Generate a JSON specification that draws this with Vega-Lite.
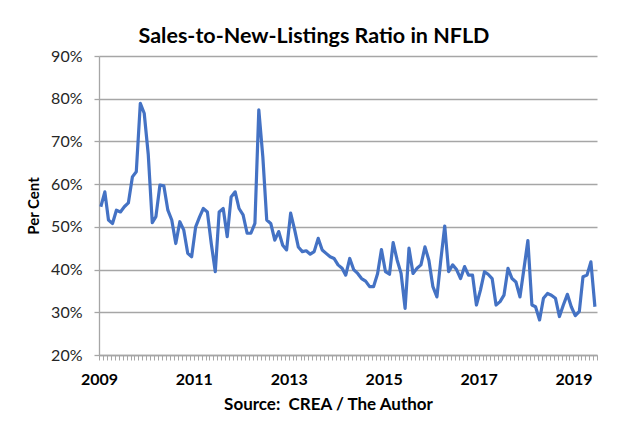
{
  "$schema": "https://vega.github.io/schema/vega-lite/v6.json",
  "autosize": "none",
  "width": 498,
  "height": 299,
  "padding": {"left": 99, "top": 56, "right": 21, "bottom": 69},
  "background": "white",
  "title": {
    "text": "Sales-to-New-Listings Ratio in NFLD",
    "font": "Lato",
    "fontSize": 21.5,
    "fontWeight": "bold",
    "color": "#000000",
    "anchor": "middle",
    "dx": -34,
    "dy": 9,
    "offset": 10
  },
  "config": {
    "view": {"stroke": null},
    "font": "Lato"
  },
  "data": {
    "values": [
      {"date": "2009-01-15", "ratio": 54.7}, {"date": "2009-02-15", "ratio": 58.2}, {"date": "2009-03-15", "ratio": 51.6}, {"date": "2009-04-15", "ratio": 50.8},
      {"date": "2009-05-15", "ratio": 53.9}, {"date": "2009-06-15", "ratio": 53.5}, {"date": "2009-07-15", "ratio": 54.7}, {"date": "2009-08-15", "ratio": 55.6},
      {"date": "2009-09-15", "ratio": 61.7}, {"date": "2009-10-15", "ratio": 62.9}, {"date": "2009-11-15", "ratio": 78.9}, {"date": "2009-12-15", "ratio": 76.6},
      {"date": "2010-01-15", "ratio": 67.0}, {"date": "2010-02-15", "ratio": 51.0}, {"date": "2010-03-15", "ratio": 52.4}, {"date": "2010-04-15", "ratio": 59.8},
      {"date": "2010-05-15", "ratio": 59.6}, {"date": "2010-06-15", "ratio": 53.9}, {"date": "2010-07-15", "ratio": 51.6}, {"date": "2010-08-15", "ratio": 46.1},
      {"date": "2010-09-15", "ratio": 51.2}, {"date": "2010-10-15", "ratio": 49.3}, {"date": "2010-11-15", "ratio": 43.8}, {"date": "2010-12-15", "ratio": 43.0},
      {"date": "2011-01-15", "ratio": 50.0}, {"date": "2011-02-15", "ratio": 52.4}, {"date": "2011-03-15", "ratio": 54.3}, {"date": "2011-04-15", "ratio": 53.5},
      {"date": "2011-05-15", "ratio": 46.1}, {"date": "2011-06-15", "ratio": 39.5}, {"date": "2011-07-15", "ratio": 53.5}, {"date": "2011-08-15", "ratio": 54.3},
      {"date": "2011-09-15", "ratio": 47.7}, {"date": "2011-10-15", "ratio": 57.0}, {"date": "2011-11-15", "ratio": 58.2}, {"date": "2011-12-15", "ratio": 54.3},
      {"date": "2012-01-15", "ratio": 52.8}, {"date": "2012-02-15", "ratio": 48.5}, {"date": "2012-03-15", "ratio": 48.5}, {"date": "2012-04-15", "ratio": 50.8},
      {"date": "2012-05-15", "ratio": 77.4}, {"date": "2012-06-15", "ratio": 66.4}, {"date": "2012-07-15", "ratio": 51.6}, {"date": "2012-08-15", "ratio": 50.8},
      {"date": "2012-09-15", "ratio": 46.9}, {"date": "2012-10-15", "ratio": 48.9}, {"date": "2012-11-15", "ratio": 45.7}, {"date": "2012-12-15", "ratio": 44.6},
      {"date": "2013-01-15", "ratio": 53.2}, {"date": "2013-02-15", "ratio": 49.3}, {"date": "2013-03-15", "ratio": 45.3}, {"date": "2013-04-15", "ratio": 44.2},
      {"date": "2013-05-15", "ratio": 44.4}, {"date": "2013-06-15", "ratio": 43.6}, {"date": "2013-07-15", "ratio": 44.2}, {"date": "2013-08-15", "ratio": 47.3},
      {"date": "2013-09-15", "ratio": 44.6}, {"date": "2013-10-15", "ratio": 43.8}, {"date": "2013-11-15", "ratio": 43.0}, {"date": "2013-12-15", "ratio": 42.6},
      {"date": "2014-01-15", "ratio": 41.1}, {"date": "2014-02-15", "ratio": 40.3}, {"date": "2014-03-15", "ratio": 38.7}, {"date": "2014-04-15", "ratio": 42.6},
      {"date": "2014-05-15", "ratio": 40.0}, {"date": "2014-06-15", "ratio": 39.1}, {"date": "2014-07-15", "ratio": 37.9}, {"date": "2014-08-15", "ratio": 37.3},
      {"date": "2014-09-15", "ratio": 36.0}, {"date": "2014-10-15", "ratio": 36.0}, {"date": "2014-11-15", "ratio": 39.0}, {"date": "2014-12-15", "ratio": 44.7},
      {"date": "2015-01-15", "ratio": 39.5}, {"date": "2015-02-15", "ratio": 38.9}, {"date": "2015-03-15", "ratio": 46.3}, {"date": "2015-04-15", "ratio": 42.2},
      {"date": "2015-05-15", "ratio": 39.1}, {"date": "2015-06-15", "ratio": 30.9}, {"date": "2015-07-15", "ratio": 45.0}, {"date": "2015-08-15", "ratio": 39.1},
      {"date": "2015-09-15", "ratio": 40.3}, {"date": "2015-10-15", "ratio": 41.1}, {"date": "2015-11-15", "ratio": 45.3}, {"date": "2015-12-15", "ratio": 42.2},
      {"date": "2016-01-15", "ratio": 36.0}, {"date": "2016-02-15", "ratio": 33.6}, {"date": "2016-03-15", "ratio": 42.0}, {"date": "2016-04-15", "ratio": 50.2},
      {"date": "2016-05-15", "ratio": 39.5}, {"date": "2016-06-15", "ratio": 41.1}, {"date": "2016-07-15", "ratio": 40.0}, {"date": "2016-08-15", "ratio": 37.9},
      {"date": "2016-09-15", "ratio": 40.7}, {"date": "2016-10-15", "ratio": 38.7}, {"date": "2016-11-15", "ratio": 38.7}, {"date": "2016-12-15", "ratio": 31.7},
      {"date": "2017-01-15", "ratio": 35.2}, {"date": "2017-02-15", "ratio": 39.5}, {"date": "2017-03-15", "ratio": 38.9}, {"date": "2017-04-15", "ratio": 37.9},
      {"date": "2017-05-15", "ratio": 31.7}, {"date": "2017-06-15", "ratio": 32.5}, {"date": "2017-07-15", "ratio": 34.0}, {"date": "2017-08-15", "ratio": 40.3},
      {"date": "2017-09-15", "ratio": 37.9}, {"date": "2017-10-15", "ratio": 37.1}, {"date": "2017-11-15", "ratio": 33.6}, {"date": "2017-12-15", "ratio": 40.0},
      {"date": "2018-01-15", "ratio": 46.8}, {"date": "2018-02-15", "ratio": 31.7}, {"date": "2018-03-15", "ratio": 31.3}, {"date": "2018-04-15", "ratio": 28.2},
      {"date": "2018-05-15", "ratio": 33.3}, {"date": "2018-06-15", "ratio": 34.4}, {"date": "2018-07-15", "ratio": 34.0}, {"date": "2018-08-15", "ratio": 33.3},
      {"date": "2018-09-15", "ratio": 29.0}, {"date": "2018-10-15", "ratio": 31.7}, {"date": "2018-11-15", "ratio": 34.2}, {"date": "2018-12-15", "ratio": 31.3},
      {"date": "2019-01-15", "ratio": 29.2}, {"date": "2019-02-15", "ratio": 30.2}, {"date": "2019-03-15", "ratio": 38.3}, {"date": "2019-04-15", "ratio": 38.7},
      {"date": "2019-05-15", "ratio": 41.8}, {"date": "2019-06-15", "ratio": 31.3}
    ]
  },
  "mark": {"type": "line", "color": "#4472C4", "strokeWidth": 3.2, "strokeJoin": "round"},
  "encoding": {
    "x": {
      "field": "date",
      "type": "temporal",
      "scale": {"domain": ["2009-01-01T00:00:00", "2019-07-01T00:00:00"], "nice": false},
      "axis": {
        "title": "Source:\u00a0 CREA / The Author",
        "titleFont": "Lato",
        "titleFontSize": 17,
        "titleFontWeight": "bold",
        "titleColor": "#000000",
        "titleX": 229,
        "titleY": 49,
        "titleAlign": "center",
        "titleBaseline": "middle",
        "tickCount": {"interval": "month", "step": 1},
        "labelExpr": "month(datum.value) == 0 && year(datum.value) % 2 == 1 ? timeFormat(datum.value, '%Y') : ''",
        "labelOverlap": false,
        "labelFlush": false,
        "labelBound": false,
        "labelFont": "Lato",
        "labelFontSize": 16,
        "labelFontWeight": "bold",
        "labelColor": "#000000",
        "labelPadding": 19,
        "labelBaseline": "middle",
        "grid": false,
        "domainColor": "#A6A6A6",
        "domainWidth": 1.3,
        "tickColor": "#A6A6A6",
        "tickSize": 5,
        "tickWidth": 1
      }
    },
    "y": {
      "field": "ratio",
      "type": "quantitative",
      "scale": {"domain": [20, 90], "nice": false, "zero": false},
      "axis": {
        "title": "Per Cent",
        "titleFont": "Lato",
        "titleFontSize": 15,
        "titleFontWeight": "bold",
        "titleColor": "#000000",
        "titleX": -66,
        "titleY": 149.5,
        "titleAlign": "center",
        "titleBaseline": "middle",
        "titleAngle": -90,
        "values": [20, 30, 40, 50, 60, 70, 80, 90],
        "labelExpr": "datum.value + '%'",
        "labelFont": "Lato",
        "labelFontSize": 16,
        "labelColor": "#262626",
        "labelPadding": 12,
        "labelFlush": false,
        "grid": true,
        "gridColor": "#A6A6A6",
        "gridWidth": 1.3,
        "domainColor": "#A6A6A6",
        "domainWidth": 1.3,
        "tickColor": "#A6A6A6",
        "tickSize": 5,
        "tickWidth": 1.3
      }
    }
  }
}
